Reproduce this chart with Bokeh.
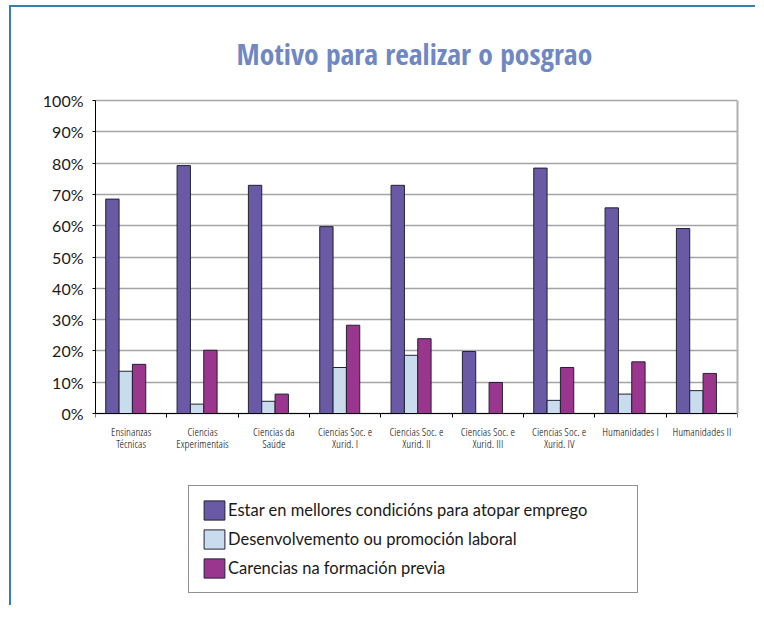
import numpy as np
from bokeh.plotting import figure
from bokeh.models import (Range1d, FixedTicker, PrintfTickFormatter, Legend,
                          LegendItem, ColumnDataSource, LinearAxis, Label)
from bokeh.transform import dodge
from bokeh.embed import file_html
from bokeh.resources import INLINE

title_text = "Motivo para realizar o posgrao"
categories = ["Ensinanzas Técnicas", "Ciencias Experimentais", "Ciencias da Saúde",
              "Ciencias Soc. e Xurid. I", "Ciencias Soc. e Xurid. II",
              "Ciencias Soc. e Xurid. III", "Ciencias Soc. e Xurid. IV",
              "Humanidades I", "Humanidades II"]
tick_labels = ["Ensinanzas\nTécnicas", "Ciencias\nExperimentais", "Ciencias da\nSaúde",
               "Ciencias Soc. e\nXurid. I", "Ciencias Soc. e\nXurid. II",
               "Ciencias Soc. e\nXurid. III", "Ciencias Soc. e\nXurid. IV",
               "Humanidades I", "Humanidades II"]
estar = [68.5, 79.2, 72.9, 59.7, 72.9, 19.8, 78.4, 65.7, 59.1]
desenvolvemento = [13.5, 3.0, 3.9, 14.7, 18.6, 0.0, 4.2, 6.2, 7.3]
carencias = [15.7, 20.2, 6.2, 28.2, 23.9, 9.9, 14.7, 16.5, 12.8]
series_names = ["Estar en mellores condicións para atopar emprego",
                "Desenvolvemento ou promoción laboral",
                "Carencias na formación previa"]
y_ticks = [0, 10, 20, 30, 40, 50, 60, 70, 80, 90, 100]

n = len(categories)
centers = list(np.arange(n) + 0.5)
source = ColumnDataSource(dict(x=centers, estar=estar, desenv=desenvolvemento,
                               carenc=carencias))

title_font = "'Open Sans Condensed', 'Noto Sans Condensed', 'Liberation Sans Narrow', 'Liberation Sans', sans-serif"
label_font = "'Open Sans Condensed Light', 'Noto Sans Condensed', 'Open Sans Condensed', 'Liberation Sans Narrow', sans-serif"

# layout: the frame spans the whole canvas height; the value axis (0-100 %)
# occupies 313 px of it, leaving room above for the title and below for the legend
PX_PER_UNIT = 3.13
Y_HIGH = 100 + 93 / PX_PER_UNIT
Y_LOW = -192 / PX_PER_UNIT
TITLE_Y = 100 + 47 / PX_PER_UNIT

p = figure(width=746, height=600, output_backend="svg", toolbar_location=None,
           x_range=Range1d(0, n), y_range=Range1d(Y_LOW, Y_HIGH),
           min_border_left=84, min_border_right=20, min_border_top=0,
           min_border_bottom=2)
p.styles = {"border-left": "2px solid #347fab", "border-top": "2px solid #347fab",
            "margin-left": "9px", "margin-top": "5px"}
p.background_fill_color = "white"
p.border_fill_color = "white"
p.outline_line_color = None

p.add_layout(Label(x=n / 2 - 0.03, y=TITLE_Y, text=title_text, text_align="center",
                   text_baseline="alphabetic", text_font=title_font,
                   text_font_style="bold", text_font_size="29.5px",
                   text_color="#6f88c4"))

bw = 0.187
colors = ["#6a5aa6", "#c9dcee", "#9b368f"]
r1 = p.vbar(x=dodge("x", -0.263), top="estar", width=bw, source=source,
            fill_color=colors[0], line_color="#222233", line_width=1)
r2 = p.vbar(x=dodge("x", -0.076), top="desenv", width=bw, source=source,
            fill_color=colors[1], line_color="#222233", line_width=1)
r3 = p.vbar(x=dodge("x", 0.111), top="carenc", width=bw, source=source,
            fill_color=colors[2], line_color="#222233", line_width=1)

# y axis
p.yaxis.ticker = FixedTicker(ticks=y_ticks, minor_ticks=[])
p.yaxis.bounds = (0, 100)
p.yaxis.formatter = PrintfTickFormatter(format="%d%%")
p.yaxis.axis_line_color = "black"
p.yaxis.major_tick_line_color = "black"
p.yaxis.major_tick_out = 3
p.yaxis.major_tick_in = 0
p.yaxis.major_label_standoff = 9
p.yaxis.major_label_text_font = "Lato"
p.yaxis.major_label_text_font_size = "16px"
p.yaxis.major_label_text_color = "#1a1a1a"

# right frame border
ra = LinearAxis(ticker=FixedTicker(ticks=[], minor_ticks=[]), bounds=(0, 100))
ra.axis_line_color = "#b0b0b0"
ra.axis_line_width = 2
ra.major_tick_line_color = None
ra.minor_tick_line_color = None
ra.major_tick_out = 0
ra.major_label_standoff = 0
p.add_layout(ra, "right")

# x axis
p.xaxis.fixed_location = 0
p.xaxis.ticker = FixedTicker(ticks=centers, minor_ticks=list(range(n + 1)))
p.xaxis.major_label_overrides = {c: t for c, t in zip(centers, tick_labels)}
p.xaxis.axis_line_color = "black"
p.xaxis.major_tick_line_color = None
p.xaxis.major_tick_out = 0
p.xaxis.major_tick_in = 0
p.xaxis.minor_tick_line_color = "black"
p.xaxis.minor_tick_out = 4
p.xaxis.minor_tick_in = 0
p.xaxis.major_label_standoff = 6
p.xaxis.major_label_text_font = label_font
p.xaxis.major_label_text_font_size = "11.5px"
p.xaxis.major_label_text_line_height = 0.85
p.xaxis.major_label_text_color = "#000000"

p.xgrid.visible = False
p.ygrid.ticker = FixedTicker(ticks=y_ticks, minor_ticks=[])
p.ygrid.grid_line_color = "#a4a4a4"
p.ygrid.grid_line_width = 1.5

legend = Legend(items=[LegendItem(label=series_names[0], renderers=[r1]),
                       LegendItem(label=series_names[1], renderers=[r2]),
                       LegendItem(label=series_names[2], renderers=[r3])],
                location=(93, 12))
legend.border_line_color = "#222222"
legend.border_line_width = 1
legend.background_fill_color = "white"
legend.background_fill_alpha = 1
legend.padding = 12
legend.spacing = 5
legend.margin = 0
legend.glyph_width = 26
legend.glyph_height = 24
legend.label_height = 24
legend.label_standoff = 1
legend.label_width = 397
legend.label_text_font = "Lato"
legend.label_text_font_size = "16.5px"
legend.label_text_color = "#1a1a1a"
p.add_layout(legend)

open("out.html", "w").write(file_html(p, INLINE))
